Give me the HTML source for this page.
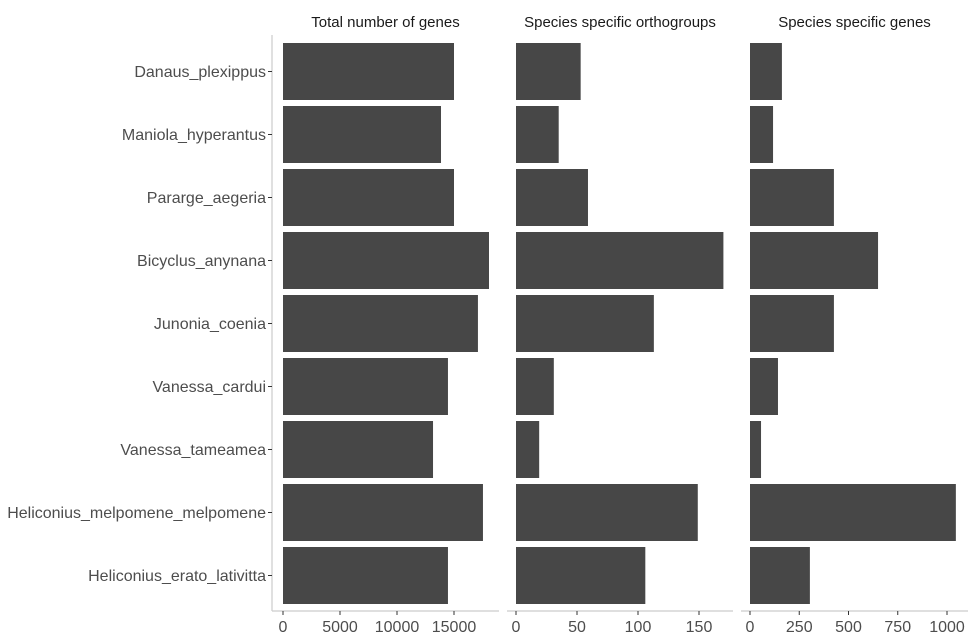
<!DOCTYPE html>
<html><head><meta charset="utf-8"><style>
body{margin:0;background:#fff;}
svg{display:block;font-family:"Liberation Sans",Arial,sans-serif;}
</style></head><body>
<svg id="chart" width="974" height="641" viewBox="0 0 974 641"></svg>
<script>
const species = ["Danaus_plexippus","Maniola_hyperantus","Pararge_aegeria","Bicyclus_anynana","Junonia_coenia","Vanessa_cardui","Vanessa_tameamea","Heliconius_melpomene_melpomene","Heliconius_erato_lativitta"];
const totalGenes = [15000,13860,15000,18070,17100,14470,13160,17540,14470];
const specificOrthogroups = [53,35,59,170,113,31,19,149,106];
const specificGenes = [162,117,426,650,426,142,56,1045,304];
const panelTitles = ["Total number of genes","Species specific orthogroups","Species specific genes"];
const ticks1 = [0,5000,10000,15000];
const ticks2 = [0,50,100,150];
const ticks3 = [0,250,500,750,1000];

const svg = document.getElementById('chart');
const NS = "http://www.w3.org/2000/svg";
function mk(tag, attrs, parent){const e=document.createElementNS(NS,tag);for(const k in attrs)e.setAttribute(k,attrs[k]);(parent||svg).appendChild(e);return e;}

const rowTop = 35, rowStep = 63, barH = 57, axisY = 611;
function yCenter(i){return rowTop + 8 + barH/2 + i*rowStep;}

const panels = [
 {x0:283, scale:11.4/1000, left:272, right:499, data:totalGenes, ticks:ticks1, name:'total-genes'},
 {x0:516, scale:1.22, left:507, right:733, data:specificOrthogroups, ticks:ticks2, name:'specific-orthogroups'},
 {x0:750, scale:0.197, left:741, right:968, data:specificGenes, ticks:ticks3, name:'specific-genes'}
];

panels.forEach((p,pi)=>{
  const g = mk('g',{});
  
  
  const xs = v => p.x0 + v*p.scale;
  const t = mk('text',{x:(p.left+p.right)/2,y:27,'text-anchor':'middle','font-size':'15',fill:'#1a1a1a'},g);
  t.textContent = panelTitles[pi];
  
  
  p.data.forEach((v,i)=>{
    const r = mk('rect',{x:xs(0),y:yCenter(i)-barH/2,width:xs(v)-xs(0),height:barH,fill:'#474747'},g);
    
    
  });
  const ax = mk('line',{x1:p.left,x2:p.right,y1:axisY,y2:axisY,stroke:'#cccccc','stroke-width':1.2},g);
  
  
  p.ticks.forEach(tv=>{
    const x = xs(tv);
    mk('line',{x1:x,x2:x,y1:axisY,y2:axisY+4,stroke:'#333','stroke-width':1},g);
    const tl = mk('text',{x:x,y:632,'text-anchor':'middle','font-size':'16',fill:'#4d4d4d'},g);
    tl.textContent = tv;
    
    
  });
  if(pi===0){
    const yl = mk('line',{x1:p.left,x2:p.left,y1:35,y2:axisY,stroke:'#cccccc','stroke-width':1.2},g);
    
    
    species.forEach((s,i)=>{
      const y = yCenter(i);
      mk('line',{x1:p.left-4,x2:p.left,y1:y,y2:y,stroke:'#333','stroke-width':1},g);
      const l = mk('text',{x:p.left-6,y:y+5.5,'text-anchor':'end','font-size':'16',fill:'#4d4d4d'},g);
      l.textContent = s;
      
      
    });
  }
});
</script>
</body></html>
